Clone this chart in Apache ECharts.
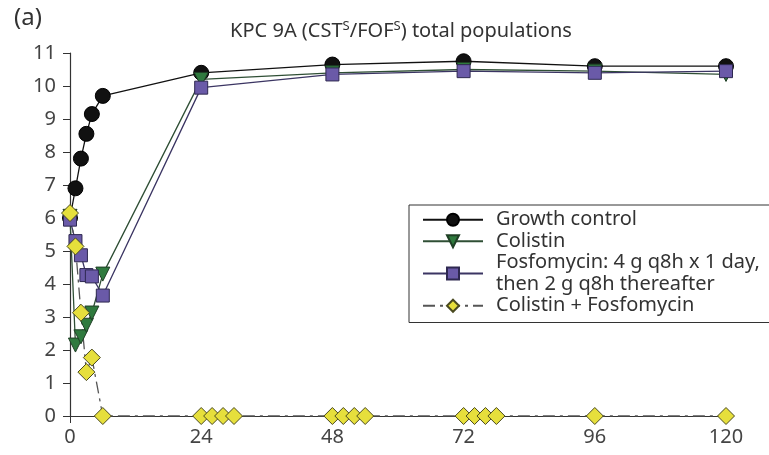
<!DOCTYPE html>
<html><head><meta charset="utf-8">
<script src="https://cdn.jsdelivr.net/npm/echarts@6/dist/echarts.min.js"></script>
<style>html,body{margin:0;padding:0;background:#fff}#c{width:769px;height:455px}</style>
</head><body><div id="c"></div>
<script>
const timesEarly = [0, 1, 2, 3, 4, 6, 24, 48, 72, 96, 120];
const timesCombo = [0, 1, 2, 3, 4, 6, 24, 26, 28, 30, 48, 50, 52, 54, 72, 74, 76, 78, 96, 120];
const growthControl = [6.0, 6.9, 7.8, 8.55, 9.15, 9.7, 10.4, 10.65, 10.75, 10.6, 10.6];
const colistin = [6.05, 2.15, 2.4, 2.75, 3.12, 4.3, 10.2, 10.4, 10.5, 10.45, 10.35];
const fosfomycin = [5.95, 5.3, 4.87, 4.27, 4.23, 3.65, 9.95, 10.35, 10.45, 10.4, 10.45];
const combo = [6.15, 5.14, 3.13, 1.33, 1.77, 0, 0, 0, 0, 0, 0, 0, 0, 0, 0, 0, 0, 0, 0, 0];
const xTicks = [0, 24, 48, 72, 96, 120];
const seriesNames = ['Growth control', 'Colistin', 'Fosfomycin: 4 g q8h x 1 day,\nthen 2 g q8h thereafter', 'Colistin + Fosfomycin'];

const pair = (xs, ys) => xs.map((x, i) => [x, ys[i]]);
const FONT = 'Noto Sans';
const chart = echarts.init(document.getElementById('c'));
chart.setOption({
  animation: false,
  backgroundColor: '#fff',
  textStyle: { fontFamily: FONT },
  title: [
    { text: '(a)', left: 9, top: 1, textStyle: { fontSize: 24, fontWeight: 'normal', color: '#333', fontFamily: FONT } },
    { text: '{a|KPC 9A (CST}{s|S}{a|/FOF}{s|S}{a|) total populations}', left: 396, top: 15, textAlign: 'center',
      textStyle: { rich: {
        a: { fontSize: 20, color: '#333', fontFamily: FONT, fontWeight: 'normal' },
        s: { fontSize: 13, color: '#333', fontFamily: FONT, fontWeight: 'normal', padding: [0, 0, 10, 0] }
      } } }
  ],
  grid: { left: 70, right: 43, top: 53, bottom: 39, containLabel: false },
  xAxis: {
    type: 'value', min: 0, max: 120, interval: 24,
    axisLine: { show: true, lineStyle: { color: '#333', width: 1.2 } },
    axisTick: { show: true, length: 7, lineStyle: { color: '#333' } },
    axisLabel: { fontSize: 20, color: '#444', margin: 11, formatter: v => xTicks.includes(v) ? String(v) : '' },
    splitLine: { show: false }
  },
  yAxis: {
    type: 'value', min: 0, max: 11, interval: 1,
    axisLine: { show: true, lineStyle: { color: '#333', width: 1.2 } },
    axisTick: { show: true, length: 7, lineStyle: { color: '#333' } },
    axisLabel: { fontSize: 20, color: '#444', margin: 14 },
    splitLine: { show: false }
  },
  legend: {
    orient: 'vertical', left: 409, top: 205,
    itemWidth: 60, itemHeight: 15, itemGap: 0,
    padding: [4, 10, 6, 13],
    borderColor: '#333', borderWidth: 1,
    textStyle: { fontSize: 20, color: '#333', fontFamily: FONT, lineHeight: 21.5, padding: [0, 0, 0, 8] },
    data: seriesNames
  },
  series: [
    { name: seriesNames[0], type: 'line', data: pair(timesEarly, growthControl),
      symbol: 'circle', symbolSize: 15,
      itemStyle: { color: '#111', borderColor: '#000', borderWidth: 1 },
      lineStyle: { color: '#111', width: 1.3 } },
    { name: seriesNames[1], type: 'line', data: pair(timesEarly, colistin),
      symbol: 'triangle', symbolRotate: 180, symbolSize: 14,
      itemStyle: { color: '#2f7a3e', borderColor: '#1f3f25', borderWidth: 1 },
      lineStyle: { color: '#2f4f35', width: 1.3 } },
    { name: seriesNames[2], type: 'line', data: pair(timesEarly, fosfomycin),
      symbol: 'rect', symbolSize: 13,
      itemStyle: { color: '#6a5aa8', borderColor: '#2e2850', borderWidth: 1 },
      lineStyle: { color: '#3b3563', width: 1.3 } },
    { name: seriesNames[3], type: 'line', data: pair(timesCombo, combo),
      symbol: 'diamond', symbolSize: 17,
      itemStyle: { color: '#e6df3c', borderColor: '#4a4a20', borderWidth: 1 },
      lineStyle: { color: '#555', width: 1.3, type: [12, 5, 3, 5] } }
  ]
});
</script></body></html>
